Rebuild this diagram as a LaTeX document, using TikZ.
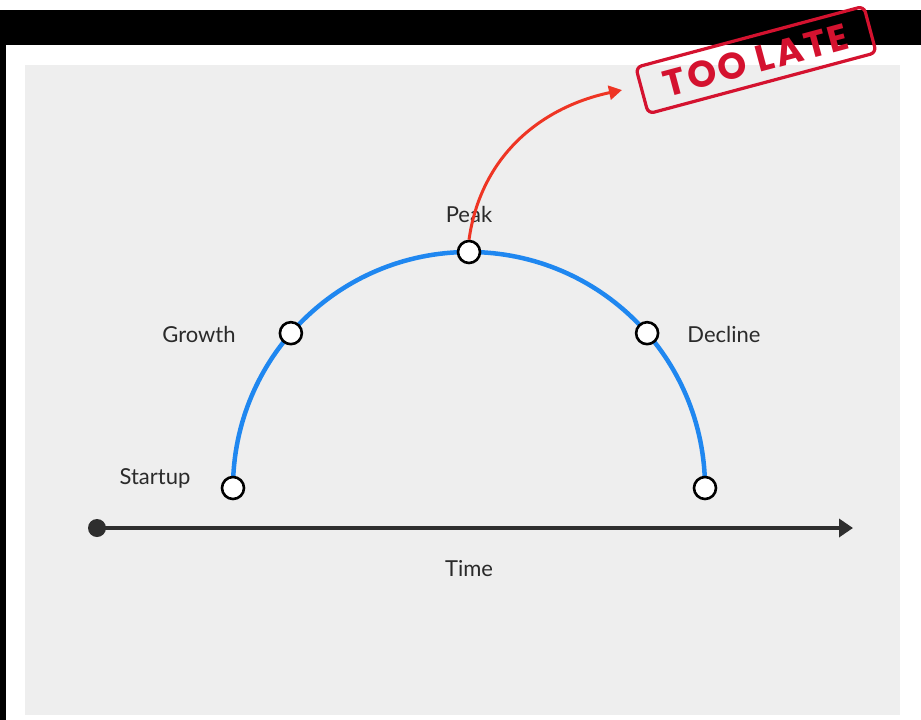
\documentclass[tikz,border=0pt]{standalone}
\usepackage{fontspec}
\setmainfont{Lato}
\newfontfamily\stampfont[LetterSpace=7]{Poppins}
\usetikzlibrary{arrows.meta,calc}
\definecolor{panel}{HTML}{EEEEEE}
\definecolor{arcblue}{HTML}{1F87F0}
\definecolor{axisgray}{HTML}{2E2E2E}
\definecolor{labelgray}{HTML}{2A2A2A}
\definecolor{arrowred}{HTML}{EE3524}
\definecolor{stampred}{HTML}{D4122F}
\tikzset{
  stagept/.style={circle,draw=black,fill=white,line width=2.6pt,minimum size=22pt,inner sep=0pt},
  stagelabel/.style={text=labelgray,font=\fontsize{22}{26}\selectfont,inner sep=0pt},
  axisdot/.style={circle,fill=axisgray,minimum size=18pt,inner sep=0pt},
  lifearc/.style={draw=arcblue,line width=4.5pt},
  axisline/.style={draw=axisgray,line width=4.5pt,-{Triangle[length=14pt,width=18pt]}},
  latearrow/.style={draw=arrowred,line width=3pt,-{Triangle[length=13pt,width=14pt]}},
  stamp/.style={draw=stampred,text=stampred,line width=3.2pt,rounded corners=6pt,
    minimum width=236pt,minimum height=48pt,inner sep=0pt,rotate=15,
    font=\stampfont\fontsize{37}{40}\selectfont\bfseries}
}
\begin{document}
\begin{tikzpicture}[x=1pt,y=-1pt]
\useasboundingbox (0,0) rectangle (921,720);
\fill[white] (0,0) rectangle (921,720);
\fill[black] (0,10) rectangle (921,45);
\fill[black] (0,10) rectangle (6,720);
\fill[panel] (25,65) rectangle (900,715);
% arc center
\coordinate (c) at (469,488);
\draw[lifearc] ($(c)+(180:236)$) arc[start angle=180,end angle=360,radius=236];
% axis
\node[axisdot] (t0) at (97,528) {};
\coordinate (t1) at (853,528);
\draw[axisline] (t0.center) -- (t1);
\node[stagelabel] (time) at (469,569) {Time};
% stage points
\node[stagept] (startup) at ($(c)+(180:236)$) {};
\node[stagept] (growth) at ($(c)+(221:236)$) {};
\node[stagept] (peak) at ($(c)+(270:236)$) {};
\node[stagept] (decline) at ($(c)+(319:236)$) {};
\node[stagept] (end) at ($(c)+(360:236)$) {};
\node[stagelabel] (lstartup) at (155,478) {Startup};
\node[stagelabel] (lgrowth) at (199,334) {Growth};
\node[stagelabel] (lpeak) at (469,214) {Peak};
\node[stagelabel] (ldecline) at (724,334) {Decline};
% stamp
\node[stamp] (toolate) at (756,60) {TOO LATE};
\coordinate (tip) at (622,90);
\draw[latearrow] (peak.north) to[out=82,in=192] (tip);
\end{tikzpicture}
\end{document}
